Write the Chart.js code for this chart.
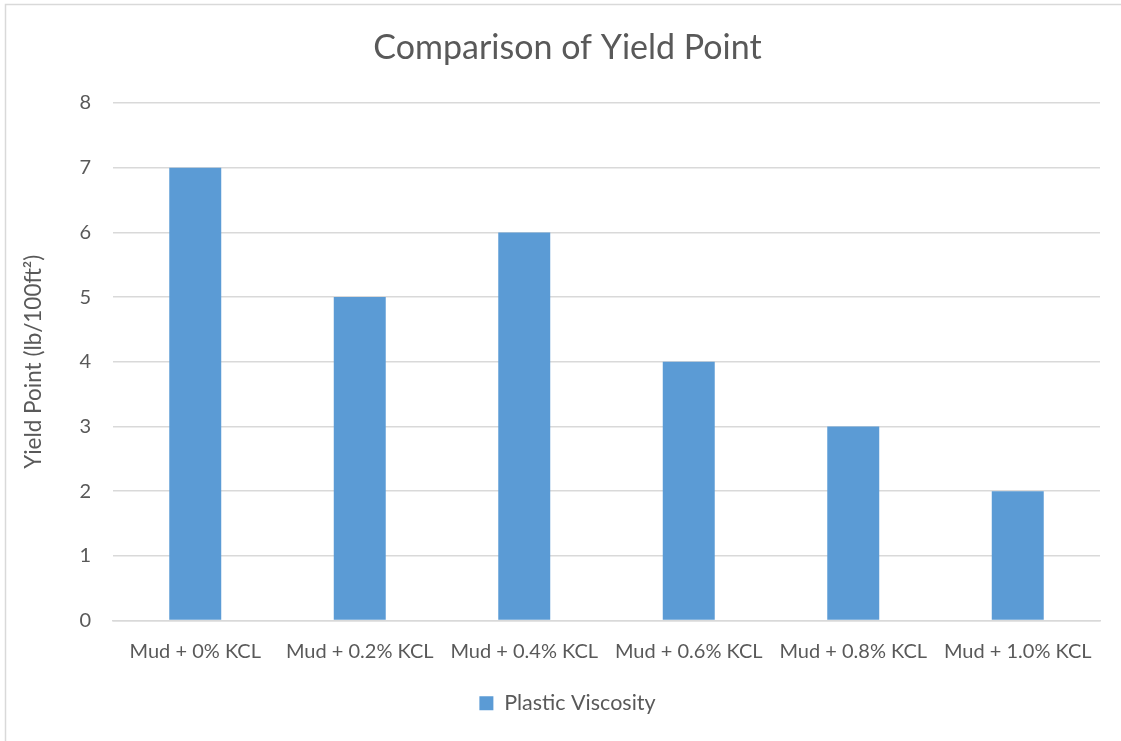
<!DOCTYPE html>
<html>
<head>
<meta charset="utf-8">
<script src="https://cdn.jsdelivr.net/npm/chart.js@4"></script>
<style>
  html, body { margin: 0; padding: 0; background: #ffffff; }
  #wrap { width: 1121px; height: 741px; position: relative; }
</style>
</head>
<body>
<div id="wrap"><canvas id="chart" width="1121" height="741"></canvas></div>
<script>
// Chart data
const categories = ['Mud + 0% KCL', 'Mud + 0.2% KCL', 'Mud + 0.4% KCL', 'Mud + 0.6% KCL', 'Mud + 0.8% KCL', 'Mud + 1.0% KCL'];
const seriesName = 'Plastic Viscosity';
const yieldPoint = [7, 5, 6, 4, 3, 2];
const yTicks = [0, 1, 2, 3, 4, 5, 6, 7, 8];

const FONT = 'Lato, "Open Sans", sans-serif';
const TEXT = '#595959';
const GRID = '#D9D9D9';
const BAR = '#5B9BD5';

// Light outer frame of the chart
const framePlugin = {
  id: 'frame',
  beforeDraw(chart) {
    const c = chart.ctx;
    c.save();
    c.fillStyle = '#ffffff';
    c.fillRect(0, 0, chart.width, chart.height);
    c.strokeStyle = '#D9D9D9';
    c.lineWidth = 1.5;
    c.strokeRect(5.5, 4.5, chart.width + 10, chart.height + 10);
    c.restore();
  }
};

new Chart(document.getElementById('chart'), {
  type: 'bar',
  data: {
    labels: categories,
    datasets: [{
      label: seriesName,
      data: yieldPoint,
      yAxisID: 'y',
      backgroundColor: BAR,
      borderWidth: 0,
      barPercentage: 0.316,
      categoryPercentage: 1.0
    }]
  },
  options: {
    responsive: false,
    animation: false,
    devicePixelRatio: 1,
    layout: { padding: { left: 14, right: 0, top: 0, bottom: 17 } },
    plugins: {
      title: {
        display: true,
        text: 'Comparison of Yield Point',
        color: TEXT,
        font: { family: FONT, size: 34, weight: 'normal', lineHeight: 1.2 },
        padding: { top: 27.6, bottom: 34.6 }
      },
      legend: {
        display: true,
        position: 'bottom',
        labels: {
          color: TEXT,
          font: { family: FONT, size: 21.5 },
          boxWidth: 14,
          boxHeight: 14,
          padding: 12
        }
      },
      tooltip: { enabled: false }
    },
    scales: {
      x: {
        grid: { display: false, drawTicks: false },
        border: { display: true, color: GRID, width: 1.5 },
        ticks: {
          color: TEXT,
          font: { family: FONT, size: 20 },
          padding: 19,
          maxRotation: 0,
          autoSkip: false
        },
        afterFit(scale) { scale.height = 60; }
      },
      y: {
        min: 0,
        max: 8,
        afterBuildTicks(scale) { scale.ticks = yTicks.map(v => ({ value: v })); },
        grid: { color: GRID, lineWidth: 1.5, drawTicks: false },
        border: { display: false },
        ticks: {
          color: TEXT,
          font: { family: FONT, size: 20 },
          padding: 22
        },
        title: {
          display: true,
          text: 'Yield Point (lb/100ft²)',
          color: TEXT,
          font: { family: FONT, size: 22.5, lineHeight: 1.2 },
          padding: { top: 6, bottom: 0 }
        },
        afterFit(scale) { scale.width = 99; }
      },
      // empty right-hand margin beside the plot
      yRight: {
        position: 'right',
        min: 0,
        max: 8,
        grid: { display: false, drawTicks: false },
        border: { display: false },
        ticks: { display: false },
        afterFit(scale) { scale.width = 21; }
      }
    }
  },
  plugins: [framePlugin]
});
</script>
</body>
</html>
